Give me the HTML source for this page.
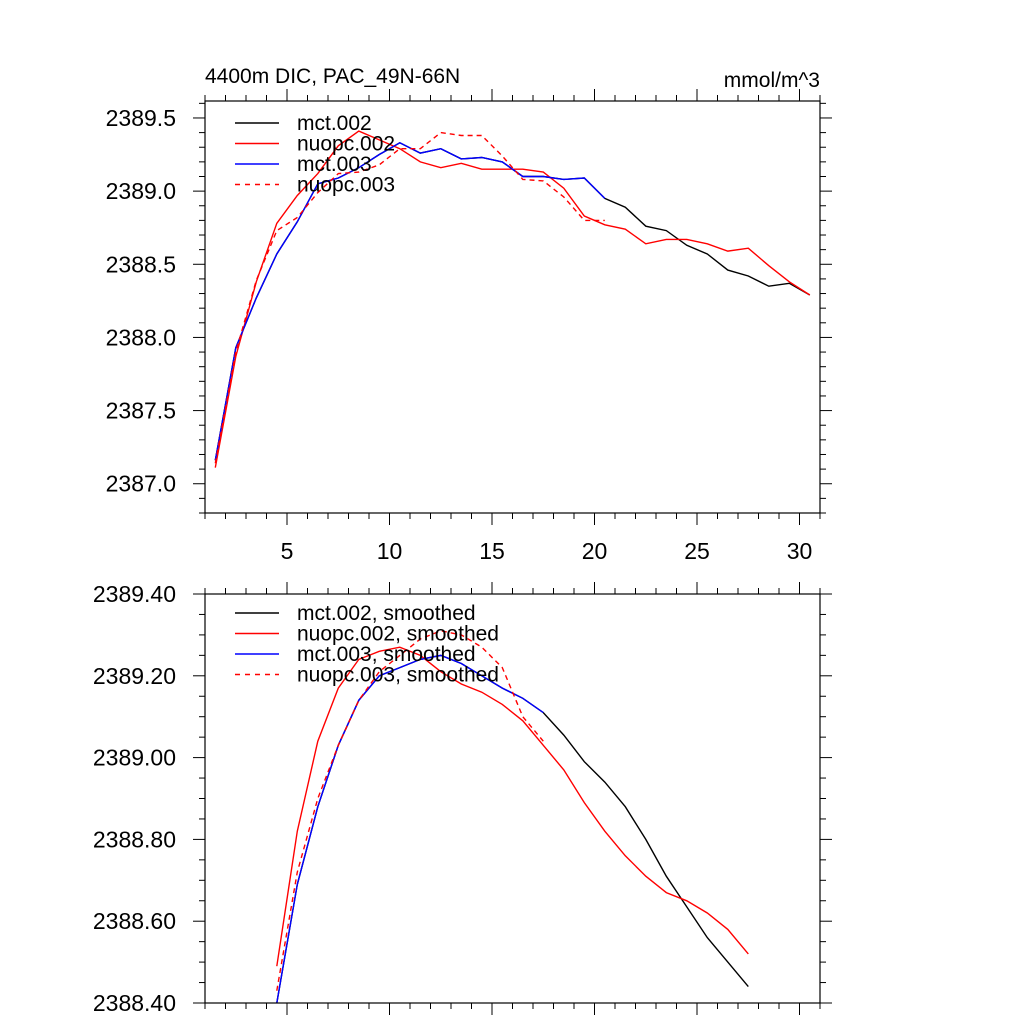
<!DOCTYPE html>
<html><head><meta charset="utf-8"><style>
html,body{margin:0;padding:0;background:#fff;}
svg{display:block;font-family:"Liberation Sans",sans-serif;}
</style></head><body>
<svg id="chart" width="1024" height="1024" viewBox="0 0 1024 1024"></svg>
<script>
const xs = [1.5,2.5,3.5,4.5,5.5,6.5,7.5,8.5,9.5,10.5,11.5,12.5,13.5,14.5,15.5,16.5,17.5,18.5,19.5,20.5,21.5,22.5,23.5,24.5,25.5,26.5,27.5,28.5,29.5,30.5];
const mct002 = [2387.16,2387.93,2388.27,2388.57,2388.79,2389.05,2389.09,2389.16,2389.25,2389.33,2389.26,2389.29,2389.22,2389.23,2389.20,2389.10,2389.10,2389.08,2389.09,2388.95,2388.89,2388.76,2388.73,2388.63,2388.57,2388.46,2388.42,2388.35,2388.37,2388.29];
const nuopc002 = [2387.11,2387.87,2388.38,2388.78,2388.97,2389.12,2389.31,2389.41,2389.35,2389.29,2389.20,2389.16,2389.19,2389.15,2389.15,2389.15,2389.13,2389.02,2388.83,2388.77,2388.74,2388.64,2388.67,2388.67,2388.64,2388.59,2388.61,2388.49,2388.38,2388.29];
const mct003 = [2387.16,2387.93,2388.27,2388.57,2388.79,2389.05,2389.09,2389.16,2389.25,2389.33,2389.26,2389.29,2389.22,2389.23,2389.20,2389.10,2389.10,2389.08,2389.09,2388.95];
const nuopc003 = [2387.14,2387.90,2388.39,2388.73,2388.82,2388.99,2389.12,2389.13,2389.18,2389.29,2389.29,2389.40,2389.38,2389.38,2389.24,2389.08,2389.07,2388.96,2388.80,2388.80];
const xsS = [4.5,5.5,6.5,7.5,8.5,9.5,10.5,11.5,12.5,13.5,14.5,15.5,16.5,17.5,18.5,19.5,20.5,21.5,22.5,23.5,24.5,25.5,26.5,27.5];
const mct002s = [2388.40,2388.69,2388.88,2389.03,2389.14,2389.20,2389.22,2389.24,2389.25,2389.23,2389.20,2389.17,2389.145,2389.11,2389.055,2388.99,2388.94,2388.88,2388.80,2388.71,2388.635,2388.56,2388.50,2388.44];
const nuopc002s = [2388.49,2388.82,2389.04,2389.17,2389.24,2389.26,2389.27,2389.25,2389.21,2389.18,2389.16,2389.13,2389.09,2389.03,2388.97,2388.89,2388.82,2388.76,2388.71,2388.67,2388.65,2388.62,2388.58,2388.52];
const mct003s = [2388.40,2388.69,2388.88,2389.03,2389.14,2389.20,2389.22,2389.24,2389.25,2389.23,2389.20,2389.17,2389.145,2389.11];
const nuopc003s = [2388.43,2388.72,2388.90,2389.03,2389.14,2389.21,2389.25,2389.29,2389.31,2389.30,2389.27,2389.22,2389.10,2389.04];
const topYTicks = ["2387.0","2387.5","2388.0","2388.5","2389.0","2389.5"];
const botYTicks = ["2388.40","2388.60","2388.80","2389.00","2389.20","2389.40"];
const xTickLabels = ["5","10","15","20","25","30"];
const topLegend = ["mct.002","nuopc.002","mct.003","nuopc.003"];
const botLegend = ["mct.002, smoothed","nuopc.002, smoothed","mct.003, smoothed","nuopc.003, smoothed"];

const NS = "http://www.w3.org/2000/svg";
const svg = document.getElementById('chart');
function mk(tag, attrs, parent){ const e=document.createElementNS(NS,tag); for(const k in attrs) e.setAttribute(k,attrs[k]); (parent||svg).appendChild(e); return e; }

function panel(box, ymin, ymax, yMinorStep, yTicks, showXLabels, series, legend, legY, pname){
  const g = mk('g',{});
  
  
  const X = v => box.l + (v-1)/(31-1)*(box.r-box.l);
  const Y = v => box.b - (v-ymin)/(ymax-ymin)*(box.b-box.t);
  for(let v=1; v<=31; v++){
    const major = v%5===0, len = major?12:6, x=X(v);
    mk('line',{x1:x,y1:box.b,x2:x,y2:box.b+len,stroke:'#000','stroke-width':1},g);
    mk('line',{x1:x,y1:box.t,x2:x,y2:box.t-len,stroke:'#000','stroke-width':1},g);
  }
  const nMinor = Math.round((ymax-ymin)/yMinorStep);
  const majorVals = yTicks.map(Number);
  for(let i=0;i<=nMinor;i++){
    const v = ymin + i*yMinorStep;
    const major = majorVals.some(m=>Math.abs(m-v)<1e-6);
    const len = major?12:6, y=Y(v);
    mk('line',{x1:box.l,y1:y,x2:box.l-len,y2:y,stroke:'#000','stroke-width':1},g);
    mk('line',{x1:box.r,y1:y,x2:box.r+len,y2:y,stroke:'#000','stroke-width':1},g);
  }
  yTicks.forEach(t=>{
    const tx = mk('text',{x:176,y:Y(Number(t))+8,'text-anchor':'end','font-size':23,fill:'#000'},g);
    
    
    tx.textContent=t;
  });
  if(showXLabels){
    xTickLabels.forEach(t=>{
      const tx = mk('text',{x:X(Number(t)),y:box.b+46,'text-anchor':'middle','font-size':23,fill:'#000'},g);
      
      
      tx.textContent=t;
    });
  }
  series.forEach(s=>{
    const pts = s.vals.map((v,i)=>X(s.xs[i]).toFixed(1)+','+Y(v).toFixed(1)).join(' ');
    const pl = mk('polyline',{points:pts,fill:'none',stroke:s.color,'stroke-width':1.4,'stroke-dasharray':s.dash||'none'},g);
    
    
  });
  const styles=[['#000',null],['#f00',null],['#00f',null],['#f00','5,5']];
  legend.forEach((t,i)=>{
    const y = legY + i*20.5;
    mk('line',{x1:235,y1:y,x2:279,y2:y,stroke:styles[i][0],'stroke-width':1.4,'stroke-dasharray':styles[i][1]||'none'},g);
    const tx = mk('text',{x:297,y:y+7,'font-size':21,fill:'#000'},g);
    
    
    tx.textContent=t;
  });
  const fr = mk('rect',{x:box.l,y:box.t,width:box.r-box.l,height:box.b-box.t,fill:'none',stroke:'#000','stroke-width':1.2},g);
  
  
}

panel({l:205,r:820,t:101,b:513}, 2386.8, 2389.616, 0.1, topYTicks, true,
  [{xs:xs,vals:mct002,color:'#000',name:'line-mct-002'},
   {xs:xs,vals:nuopc002,color:'#f00',name:'line-nuopc-002'},
   {xs:xs,vals:mct003,color:'#00f',name:'line-mct-003'},
   {xs:xs,vals:nuopc003,color:'#f00',dash:'5,4',name:'line-nuopc-003'}],
  topLegend, 123, 'top-panel');
panel({l:205,r:820,t:594,b:1003}, 2388.4, 2389.4, 0.05, botYTicks, false,
  [{xs:xsS,vals:mct002s,color:'#000',name:'line-mct-002-smoothed'},
   {xs:xsS,vals:nuopc002s,color:'#f00',name:'line-nuopc-002-smoothed'},
   {xs:xsS,vals:mct003s,color:'#00f',name:'line-mct-003-smoothed'},
   {xs:xsS,vals:nuopc003s,color:'#f00',dash:'5,4',name:'line-nuopc-003-smoothed'}],
  botLegend, 613, 'bottom-panel');

const t1 = mk('text',{x:205,y:83,'font-size':21,fill:'#000'});


t1.textContent='4400m DIC, PAC_49N-66N';
const t2 = mk('text',{x:820,y:87,'font-size':21,'text-anchor':'end',fill:'#000'});


t2.textContent='mmol/m^3';
</script>
</body></html>
